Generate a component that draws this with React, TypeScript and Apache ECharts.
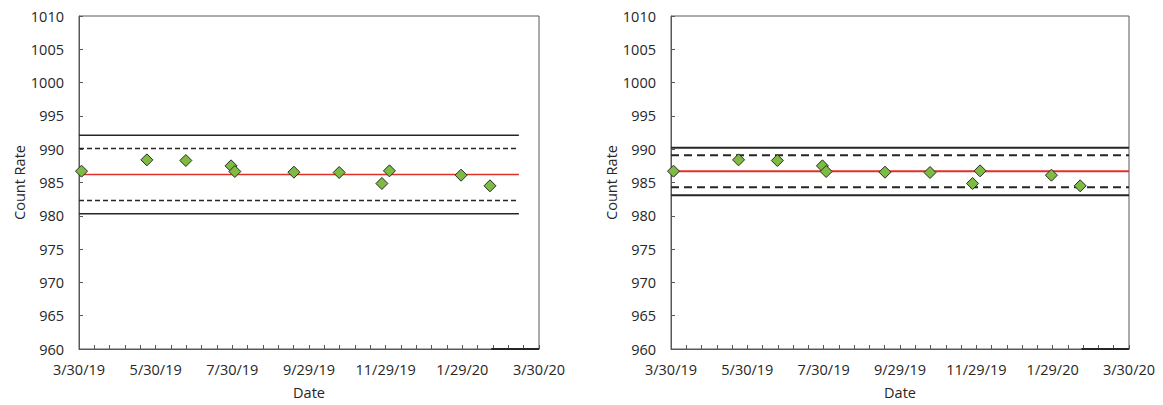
import React, { useEffect, useRef } from 'react';
import * as echarts from 'echarts';

// ---- data ----
const sampleDates = ['2019-04-01', '2019-05-23', '2019-06-23', '2019-07-29', '2019-08-01', '2019-09-17', '2019-10-23', '2019-11-26', '2019-12-02', '2020-01-28', '2020-02-20'];
const countRates = [986.7, 988.4, 988.3, 987.5, 986.65, 986.55, 986.5, 984.85, 986.75, 986.1, 984.5];

const limitNames = ['UCL', 'UWL', 'Mean', 'LWL', 'LCL'];
const leftLimitValues = [992.1, 990.1, 986.2, 982.3, 980.3];
const rightLimitValues = [990.2, 989.1, 986.7, 984.3, 983.1];
const leftLimitSpan = ['2019-03-30', '2020-03-14'];
const rightLimitSpan = ['2019-03-30', '2020-03-30'];
const axisPatchSpan = ['2020-02-21', '2020-03-30'];

const xAxisStart = '2019-03-30';
const xAxisEnd = '2020-03-30';
const xTickStepDays = 61;
const yMin = 960;
const yMax = 1010;
const yStep = 5;

const toSerial = (s: string) => {
  const [y, m, d] = s.split('-').map(Number);
  return Math.round(Date.UTC(y, m - 1, d) / 86400000) + 25569;
};
const serialLabel = (v: number) => {
  const dt = new Date((v - 25569) * 86400000);
  return `${dt.getUTCMonth() + 1}/${dt.getUTCDate()}/${String(dt.getUTCFullYear()).slice(2)}`;
};

const FONT = 'Open Sans';
const TXT = '#262626';
const FS = 14.5;

export default function App() {
  const ref = useRef<HTMLDivElement>(null);
  useEffect(() => {
    document.body.style.margin = '0';
    if (!ref.current) return;
    const chart = echarts.init(ref.current, null, { renderer: 'svg' });
    const xMin = toSerial(xAxisStart);
    const xMax = toSerial(xAxisEnd);

    const makeX = (gi: number) => ({
      type: 'value',
      gridIndex: gi,
      min: xMin,
      max: xMax,
      interval: xTickStepDays,
      name: 'Date',
      nameLocation: 'middle',
      nameGap: 36,
      nameTextStyle: { fontFamily: FONT, fontSize: FS, color: TXT },
      axisLine: { show: true, lineStyle: { color: '#595959', width: 1 } },
      axisTick: { show: true, inside: true, length: 4, lineStyle: { color: '#595959' } },
      minorTick: { show: true, splitNumber: 5, length: 4, lineStyle: { color: '#595959' } },
      splitLine: { show: false },
      axisLabel: {
        fontFamily: FONT, fontSize: FS, color: TXT, margin: 13,
        formatter: (v: number) => serialLabel(v),
      },
    });
    const makeY = (gi: number) => ({
      type: 'value',
      gridIndex: gi,
      min: yMin,
      max: yMax,
      interval: yStep,
      name: 'Count Rate',
      nameLocation: 'middle',
      nameGap: 52,
      nameTextStyle: { fontFamily: FONT, fontSize: FS, color: TXT },
      axisLine: { show: true, lineStyle: { color: '#595959', width: 1 } },
      axisTick: { show: true, inside: true, length: 4, lineStyle: { color: '#595959' } },
      splitLine: { show: false },
      axisLabel: { fontFamily: FONT, fontSize: FS, color: TXT, margin: 15, formatter: (v: number) => String(v) },
    });

    const limitSeries = (gi: number, values: number[], span: string[], thick: boolean) =>
      values.map((v, i) => {
        const isMean = i === 2;
        const isDash = i === 1 || i === 3;
        return {
          type: 'line',
          name: limitNames[i],
          xAxisIndex: gi,
          yAxisIndex: gi,
          data: [[toSerial(span[0]), v], [toSerial(span[1]), v]],
          showSymbol: false,
          symbol: 'none',
          silent: true,
          z: 2,
          lineStyle: {
            color: isMean ? '#e0302a' : '#262626',
            width: thick ? 2 : (isMean ? 1.3 : 1.5),
            type: isDash ? (thick ? [8, 5] : [5, 3]) : 'solid',
          },
        };
      });

    const points = sampleDates.map((d, i) => [toSerial(d), countRates[i]]);
    const scatter = (gi: number) => ({
      type: 'scatter',
      xAxisIndex: gi,
      yAxisIndex: gi,
      data: points,
      symbol: 'diamond',
      symbolSize: 12,
      z: 5,
      itemStyle: { color: '#7dbb42', borderColor: '#2b2b2b', borderWidth: 1, opacity: 1 },
    });
    const patch = (gi: number) => ({
      type: 'line',
      xAxisIndex: gi,
      yAxisIndex: gi,
      data: [[toSerial(axisPatchSpan[0]), yMin], [toSerial(axisPatchSpan[1]), yMin]],
      showSymbol: false,
      symbol: 'none',
      silent: true,
      z: 6,
      lineStyle: { color: '#262626', width: 2 },
    });

    chart.setOption({
      animation: false,
      backgroundColor: '#ffffff',
      textStyle: { fontFamily: FONT },
      grid: [
        { left: 79, top: 16, width: 460, height: 340, show: true, borderColor: '#595959', borderWidth: 1, backgroundColor: 'transparent' },
        { left: 671, top: 16, width: 458, height: 340, show: true, borderColor: '#595959', borderWidth: 1, backgroundColor: 'transparent' },
      ],
      xAxis: [makeX(0), makeX(1)],
      yAxis: [makeY(0), makeY(1)],
      series: [
        ...limitSeries(0, leftLimitValues, leftLimitSpan, false),
        ...limitSeries(1, rightLimitValues, rightLimitSpan, true),
        scatter(0),
        scatter(1),
        patch(0),
        patch(1),
      ],
    });
    return () => chart.dispose();
  }, []);
  return <div ref={ref} style={{ width: 1163, height: 405 }} />;
}
